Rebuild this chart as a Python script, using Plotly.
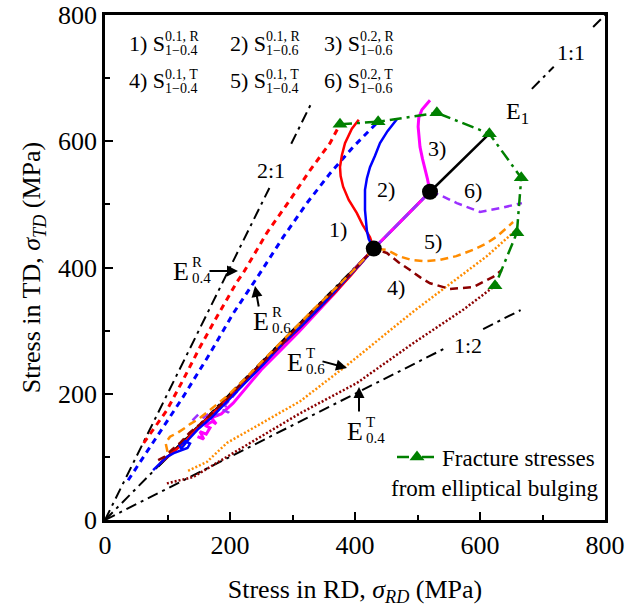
import plotly.graph_objects as go

# ---------------- data (MPa) ----------------
# reference stress-ratio lines (segments separated by None where labels sit)
r11_rd = [0, 430, None, 683, 718, None, 781, 800]
r11_td = [0, 430, None, 683, 718, None, 781, 800]
r21_rd = [0, 263, None, 298, 330]
r21_td = [0, 526, None, 596, 660]
r12_rd = [0, 547, None, 605, 665]
r12_td = [0, 273.5, None, 302.5, 332.5]

# elliptical-bulge reference loading paths
eR04_rd = [62, 99, 125, 152, 179, 211, 221, 259, 296, 328, 360, 376]
eR04_td = [122, 174, 222, 274, 322, 377, 391, 455, 507, 554, 597, 627]
eR06_rd = [37, 83, 125, 168, 205, 248, 285, 323, 360, 397, 437]
eR06_td = [63, 132, 195, 264, 327, 391, 448, 502, 549, 591, 631]
eT06_rd = [133, 163, 195, 232, 312, 387, 493, 560, 611, 655]
eT06_td = [78, 92, 122, 143, 188, 245, 330, 380, 418, 457]
eT04_rd = [99, 141, 205, 312, 403, 493, 573, 624]
eT04_td = [58, 68, 106, 169, 217, 280, 333, 371]

# two-step loading paths
s1_rd = [88, 100, 112, 126, 140, 158, 180, 205, 232, 260, 288, 315, 342, 368, 392, 412, 430,
         424, 412, 403, 390, 381, 377, 376, 379, 384, 395, 406]
s1_td = [90, 100, 110, 122, 138, 155, 175, 200, 226, 254, 282, 307, 334, 360, 386, 410, 430,
         448, 468, 486, 507, 528, 545, 559, 578, 597, 620, 634]
s2_rd = [77, 88, 99, 110, 122, 132, 136, 128, 119, 122, 134, 150, 170, 195, 225, 255, 285, 315,
         345, 375, 400, 418, 430, 422, 419, 417, 416, 416, 416, 419, 424, 432, 440, 452, 467]
s2_td = [79, 90, 100, 106, 110, 114, 121, 125, 118, 113, 128, 145, 162, 188, 218, 248, 280, 308,
         338, 370, 396, 416, 430, 445, 458, 475, 491, 507, 523, 541, 559, 577, 597, 616, 635]
s3_rd = [148, 158, 152, 162, 168, 160, 172, 178, 170, 186, 205, 225, 250, 280, 310, 340, 370, 400,
         430, 460, 490, 520, 516, 512, 508, 504, 501, 502, 507, 520]
s3_td = [132, 128, 140, 136, 146, 150, 156, 152, 162, 168, 185, 208, 238, 268, 298, 330, 362, 398,
         430, 460, 490, 520, 540, 554, 572, 591, 623, 637, 650, 665]
s4_rd = [85, 95, 108, 120, 135, 150, 170, 195, 222, 250, 280, 310, 340, 370, 400, 430,
         451, 470, 488, 505, 520, 552, 589, 621, 635]
s4_td = [95, 100, 112, 122, 138, 150, 168, 192, 220, 248, 276, 308, 338, 366, 398, 430,
         423, 408, 396, 384, 375, 366, 369, 385, 396]
s5_rd = [100, 97, 104, 116, 128, 136, 150, 170, 195, 222, 250, 280, 310, 340, 370, 400, 430,
         451, 470, 490, 510, 536, 562, 589, 610, 627, 653]
s5_td = [108, 122, 132, 138, 146, 152, 160, 176, 196, 222, 250, 280, 310, 340, 368, 398, 430,
         428, 418, 412, 410, 412, 418, 428, 438, 449, 472]
s6_rd = [140, 150, 158, 170, 180, 190, 198, 192, 205, 222, 245, 272, 300, 330, 360, 390, 415, 430,
         460, 490, 520, 536, 563, 600, 632, 667]
s6_td = [158, 168, 162, 172, 166, 174, 170, 182, 196, 216, 240, 266, 292, 322, 352, 384, 412, 430,
         460, 490, 520, 515, 502, 488, 494, 502]

# equibiaxial path E1 and prestrain points
e1_rd = [85, 150, 230, 300, 370, 430, 520, 615]
e1_td = [85, 148, 228, 300, 368, 430, 520, 612]
pre_rd = [430, 520]
pre_td = [430, 520]

# fracture stresses from elliptical bulging
fr_rd = [376, 437, 531, 615, 666, 659, 624]
fr_td = [627, 631, 645, 612, 542, 455, 371]

# ---------------- figure ----------------
FONT = "Liberation Serif, Times New Roman, Times, serif"
W, H = 633, 612
ML, MR, MT, MB = 105, 28, 15, 92
PW, PH = W - ML - MR, H - MT - MB

RED, BLUE, MAG = "#FF0000", "#0000FF", "#FF00FF"
PUR, ORA, MAR, GRN = "#9B30FF", "#FF8C00", "#8B0000", "#008000"

fig = go.Figure()

def line(x, y, color, width=2.5, dash="solid", name=None, show=False, mode="lines", marker=None):
    fig.add_trace(go.Scatter(x=x, y=y, mode=mode, name=name, showlegend=show,
                             line=dict(color=color, width=width, dash=dash),
                             marker=marker, hoverinfo="skip", connectgaps=False))

DD = "11px,5px,3px,5px"
line(r11_rd, r11_td, "black", 2, DD)
line(r21_rd, r21_td, "black", 2, DD)
line(r12_rd, r12_td, "black", 2, DD)

line(eR04_rd, eR04_td, RED, 3, "6px,5px")
line(eR06_rd, eR06_td, BLUE, 3, "6px,5px")
line(eT06_rd, eT06_td, ORA, 2.5, "2px,2px")
line(eT04_rd, eT04_td, MAR, 2.5, "2px,2px")

line(e1_rd, e1_td, "black", 2.5)
line(s3_rd, s3_td, MAG, 3)
line(s6_rd, s6_td, PUR, 2.5, "8px,5px")
line(s1_rd, s1_td, RED, 2.5)
line(s2_rd, s2_td, BLUE, 2.5)
line(s4_rd, s4_td, MAR, 2.5, "8px,5px")
line(s5_rd, s5_td, ORA, 2.5, "8px,5px")

line(fr_rd, fr_td, GRN, 2.5, "12px,5px,3px,5px", name="Fracture stresses", show=True,
     mode="lines+markers", marker=dict(symbol="triangle-up", size=13, color=GRN))

fig.add_trace(go.Scatter(x=pre_rd, y=pre_td, mode="markers", showlegend=False, hoverinfo="skip",
                         marker=dict(color="black", size=16)))

# ---------------- annotations ----------------
def P(px, py):
    return (px - ML) / PW, (MT + PH - py) / PH

ann = []

def txt(s, px, py, size=22, xanchor="center"):
    x, y = P(px, py)
    ann.append(dict(text=s, x=x, y=y, xref="paper", yref="paper", showarrow=False,
                    xanchor=xanchor, yanchor="middle",
                    font=dict(family=FONT, size=size, color="black")))

def arrow(tip, tail):
    x, y = P(*tip)
    ann.append(dict(text="", x=x, y=y, xref="paper", yref="paper", showarrow=True,
                    ax=tail[0] - tip[0], ay=tail[1] - tip[1], arrowhead=2, arrowsize=1.1,
                    arrowwidth=2, arrowcolor="black"))

# top-left key
keys = [("1) S", "0.1, R", "1\u22120.4"), ("2) S", "0.1, R", "1\u22120.6"), ("3) S", "0.2, R", "1\u22120.6"),
        ("4) S", "0.1, T", "1\u22120.4"), ("5) S", "0.1, T", "1\u22120.4"), ("6) S", "0.2, T", "1\u22120.6")]
colx = [127, 228, 322]
rowy = [43, 80.5]
for i, (m, sp, sb) in enumerate(keys):
    cx, ry = colx[i % 3], rowy[i // 3]
    txt(m, cx, ry, 22, "left")
    txt(sp, cx + 36, ry - 6.5, 14, "left")
    txt(sb, cx + 36, ry + 8, 14, "left")

# curve labels
for s, px, py in [("1)", 338, 229), ("2)", 386, 189), ("3)", 437, 148), ("4)", 396, 287),
                  ("5)", 433, 242), ("6)", 473, 190), ("2:1", 271, 170), ("1:1", 571, 53),
                  ("1:2", 468, 345)]:
    txt(s, px, py, 22)
txt("E<sub>1</sub>", 517, 113, 24)

# E labels with stacked super/subscripts
for (ex, ey, sup, sub) in [(181, 271, "R", "0.4"), (261, 321, "R", "0.6"),
                           (295, 362, "T", "0.6"), (355, 431, "T", "0.4")]:
    txt("E", ex, ey, 26)
    txt(sup, ex + 9, ey - 9, 15, "left")
    txt(sub, ex + 9, ey + 7, 15, "left")

arrow((238, 271), (208, 271))
arrow((255, 286), (259, 308))
arrow((347, 368), (321, 361))
arrow((359, 387), (359, 413))

txt("from elliptical bulging", 600, 488, 23, "right")

lx, ly = P(392, 457)
axis_common = dict(range=[0, 800], dtick=200, ticks="inside", ticklen=8, tickwidth=2,
                   tickcolor="black", showline=True, linewidth=2.5, linecolor="black",
                   mirror=True, showgrid=False, zeroline=False, automargin=False,
                   tickfont=dict(family=FONT, size=26, color="black"),
                   minor=dict(ticks="inside", dtick=100, ticklen=5, tickwidth=2, tickcolor="black"))

fig.update_layout(
    width=W, height=H, margin=dict(l=ML, r=MR, t=MT, b=MB, autoexpand=False),
    paper_bgcolor="white", plot_bgcolor="white",
    font=dict(family=FONT, color="black"),
    xaxis=dict(axis_common, title=dict(text="Stress in RD, <i>σ</i><sub><i>RD</i></sub> (MPa)",
                                       font=dict(family=FONT, size=26), standoff=21)),
    yaxis=dict(axis_common, title=dict(text="Stress in TD, <i>σ</i><sub><i>TD</i></sub> (MPa)",
                                       font=dict(family=FONT, size=26), standoff=10)),
    legend=dict(x=lx, y=ly, xanchor="left", yanchor="middle", bgcolor="rgba(0,0,0,0)",
                font=dict(family=FONT, size=23, color="black"), itemwidth=40),
    annotations=ann,
    showlegend=True,
)

fig.write_html("out.html")
